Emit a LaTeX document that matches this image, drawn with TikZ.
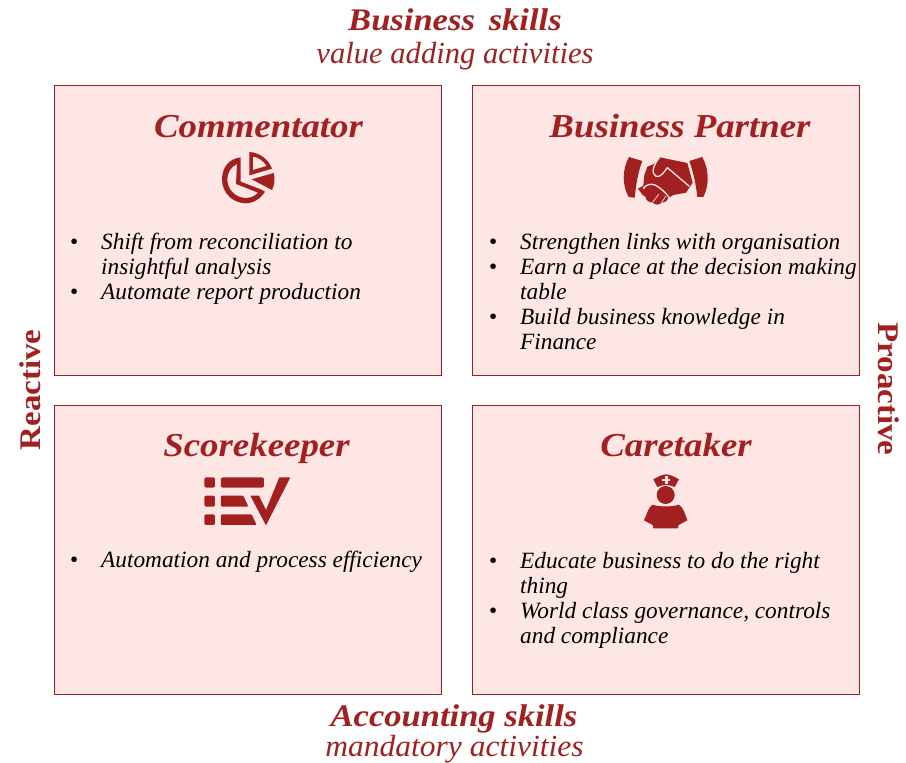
\documentclass[tikz,border=0pt]{standalone}
\usepackage{fontspec}
\setmainfont{Liberation Serif}
\newfontfamily\wideserif[FakeStretch=1.1]{Liberation Serif}
\newfontfamily\slightserif[FakeStretch=1.03]{Liberation Serif}
\definecolor{pwcred}{HTML}{A32020}
\definecolor{pwcpink}{HTML}{FDE6E3}
\newcommand{\bodyfont}{\fontsize{23.3}{25}\selectfont\itshape\color{black}}
\newcommand{\titlefont}{\wideserif\fontsize{33.5}{36}\selectfont\bfseries\itshape\color{pwcred}}
\newcommand{\headfont}{\wideserif\fontsize{31.4}{33}\selectfont\bfseries\itshape\color{pwcred}}
\newcommand{\subfont}{\fontsize{30.6}{33}\selectfont\itshape\color{pwcred}}
\newcommand{\subwidefont}{\slightserif\fontsize{30.6}{33}\selectfont\itshape\color{pwcred}}
\newcommand{\sidefont}{\wideserif\fontsize{30}{33}\selectfont\bfseries\color{pwcred}}
\newcommand{\bul}{\makebox[31pt][l]{\normalfont\textbullet}}
\newcommand{\cont}{\hspace*{31pt}}
\tikzset{
  quad/.style={draw=pwcred,fill=pwcpink,line width=0.8pt,anchor=north west,inner sep=0pt},
  boxtitle/.style={font=\titlefont,inner sep=0pt,anchor=base},
  bodytext/.style={font=\bodyfont,align=left,anchor=north west,inner sep=0pt},
  heading/.style={align=center,inner sep=0pt},
  side/.style={font=\sidefont,inner sep=0pt},
  icon/.style={fill=pwcred,draw=none},
  iconlight/.style={fill=pwcpink,draw=none},
  iconline/.style={draw=pwcpink,line width=1.3pt,fill=none},
  fingerline/.style={draw=pwcpink,line width=0.7pt,fill=none},
}
\begin{document}
\begin{tikzpicture}[x=1pt,y=-1pt]
\useasboundingbox (0,0) rectangle (906,763);
\fill[white] (0,0) rectangle (906,763);
% quadrants
\node[quad,minimum width=387pt,minimum height=290pt] (q1) at (53.6,85) {};
\node[quad,minimum width=387pt,minimum height=290pt] (q2) at (471.6,85) {};
\node[quad,minimum width=387pt,minimum height=289pt] (q3) at (53.6,404.6) {};
\node[quad,minimum width=387pt,minimum height=289pt] (q4) at (471.6,404.6) {};
% headings
\node[heading,font=\headfont,anchor=base] (t1) at (455,30) {Business\, skills};
\node[heading,font=\subfont,anchor=base] (t2) at (455,63) {value adding activities};
\node[heading,font=\headfont,anchor=base] (b1) at (454,726) {Accounting skills};
\node[heading,font=\subwidefont,anchor=base] (b2) at (454.5,756.3) {mandatory activities};
\node[side,rotate=90] (rl) at (30,390) {Reactive};
\node[side,rotate=-90] (rr) at (889,389) {Proactive};
% titles
\node[boxtitle] (n1) at (258.5,137) {Commentator};
\node[boxtitle] (n2) at (680,137) {Business Partner};
\node[boxtitle] (n3) at (256.5,456) {Scorekeeper};
\node[boxtitle] (n4) at (676,456) {Caretaker};
% body
\node[bodytext] (x1) at (70,233) {\bul Shift from reconciliation to\\\cont insightful analysis\\\bul Automate report production};
\node[bodytext] (x2) at (489,233) {\bul Strengthen links with organisation\\\bul Earn a place at the decision making\\\cont table\\\bul Build business knowledge in\\\cont Finance};
\node[bodytext] (x3) at (70,551) {\bul Automation and process efficiency};
\node[bodytext] (x4) at (489,552) {\bul Educate business to do the right\\\cont thing\\\bul World class governance, controls\\\cont and compliance};
% pie icon
\begin{scope}[shift={(200,140)},x=0.3333pt,y=-0.3333pt]
  \fill[icon,even odd rule] (122,52)
    .. controls (85,56) and (66,85) .. (66,118)
    .. controls (66,160) and (100,190) .. (138,190)
    .. controls (160,190) and (183,175) .. (195,155)
    -- (182,148) -- (122,125) -- cycle
    (111,72) .. controls (93,80) and (82,98) .. (82,118)
    .. controls (82,150) and (108,174) .. (138,174)
    .. controls (152,174) and (165,168) .. (174,158)
    -- (108,132) -- cycle;
  \fill[icon,even odd rule] (148,36) .. controls (180,38) and (205,58) .. (216,86)
    -- (148,106) -- cycle
    (159,50) -- (159,90) -- (200,78) .. controls (191,63) and (176,52) .. (159,50) -- cycle;
  \fill[icon] (155,118) -- (221,99) .. controls (226,115) and (224,134) .. (216,150) -- cycle;
\end{scope}
% handshake icon
\begin{scope}[shift={(610,145)},x=0.3333pt,y=-0.3333pt]
  \fill[icon] (57,36) -- (97,48) .. controls (84,80) and (78,120) .. (74,158)
    -- (56,156) .. controls (36,120) and (36,75) .. (57,36) -- cycle;
  \fill[icon] (277,36) -- (238,48) .. controls (250,80) and (258,120) .. (262,156)
    -- (280,156) .. controls (298,120) and (298,75) .. (277,36) -- cycle;
  % hands silhouette
  \fill[icon] (150,37) -- (232,54) -- (248,113) -- (228,143) -- (190,150) -- (174,160)
    .. controls (172,170) and (160,174) .. (155,172)
    .. controls (150,182) and (132,180) .. (128,172)
    .. controls (118,174) and (108,166) .. (106,155)
    -- (98,150) -- (84,131) -- (100,122) -- (103,90) -- (112,65) -- (132,57) -- cycle;
  % thumb line and finger line
  \draw[iconline,line join=round] (148,38) .. controls (130,60) and (122,85) .. (138,94)
    .. controls (150,98) and (160,85) .. (172,68) -- (238,124);
  \draw[iconline,line join=round] (100,130) .. controls (110,118) and (122,115) .. (135,120)
    .. controls (150,128) and (165,140) .. (178,158);
  \draw[fingerline] (100,132) -- (108,122);
  \draw[fingerline] (128,172) -- (146,148);
  \draw[fingerline] (155,172) -- (168,153);
\end{scope}
% scorekeeper icon
\begin{scope}[shift={(190,465)},x=0.3333pt,y=-0.3333pt]
  \fill[icon,rounded corners=2pt] (43,37) rectangle (75,68);
  \fill[icon,rounded corners=2pt] (43,92) rectangle (75,125);
  \fill[icon,rounded corners=2pt] (43,148) rectangle (75,180);
  \fill[icon,rounded corners=2pt] (93,37) rectangle (222,68);
  \fill[icon,rounded corners=1pt] (93,92) -- (160,92) -- (175,125) -- (93,125) -- cycle;
  \fill[icon,rounded corners=1pt] (93,148) -- (185,148) -- (200,180) -- (93,180) -- cycle;
  \fill[icon] (181,92) -- (207,92) -- (228,135) -- (268,37) -- (301,37) -- (228,181) -- cycle;
\end{scope}
% nurse icon
\begin{scope}[shift={(630,465)},x=0.3333pt,y=-0.3333pt]
  \fill[icon] (70,43) .. controls (85,35) and (95,29) .. (108,28) .. controls (122,29) and (132,35) .. (147,43)
    -- (134,66) .. controls (118,58) and (98,58) .. (82,66) -- cycle;
  \fill[iconlight] (104,34) rectangle (113,56);
  \fill[iconlight] (97,41) rectangle (120,49);
  \fill[icon] (107,90) circle[radius=27];
  \fill[icon] (68,119) .. controls (85,126) and (130,126) .. (146,119)
    .. controls (160,125) and (166,150) .. (172,166) -- (146,180) -- (144,190) -- (70,190) -- (68,180) -- (42,166)
    .. controls (50,150) and (55,125) .. (68,119) -- cycle;
\end{scope}
\end{tikzpicture}
\end{document}
